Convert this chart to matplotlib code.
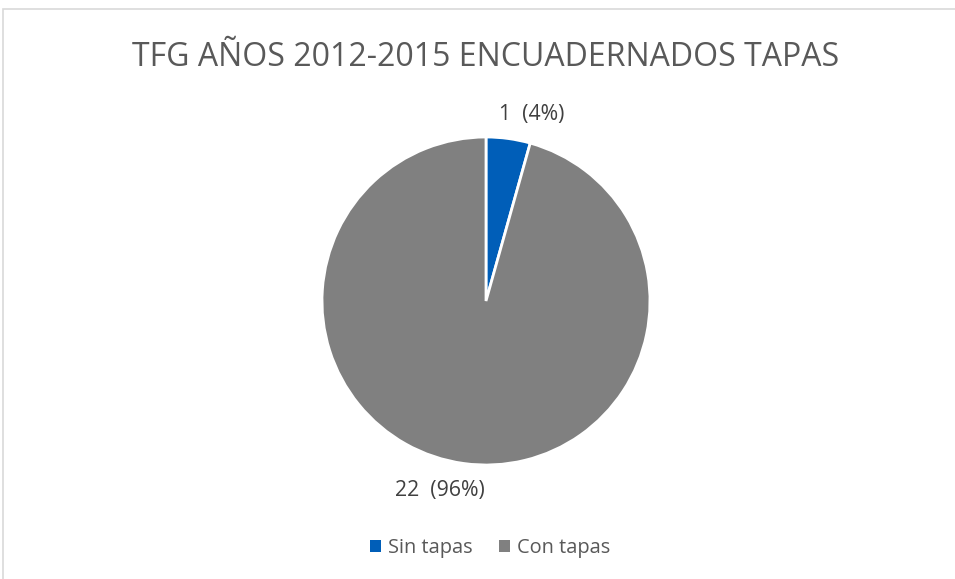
import matplotlib
matplotlib.use("Agg")
import matplotlib.pyplot as plt
import numpy as np
from matplotlib.patches import Rectangle

title = "TFG AÑOS 2012-2015 ENCUADERNADOS TAPAS"
categories = ["Sin tapas", "Con tapas"]
values = [1, 22]
colors = ["#005EB8", "#808080"]

plt.rcParams['font.family'] = ['Open Sans', 'DejaVu Sans']

W, H = 955, 579
fig = plt.figure(figsize=(W / 100, H / 100), dpi=100)
fig.patch.set_facecolor("white")

# chart border (top and left visible)
fig.add_artist(Rectangle((3 / W, -0.1), 1.2, (H - 9) / H + 0.1, transform=fig.transFigure,
                         fill=False, edgecolor="#D9D9D9", linewidth=1.2))

cx, cy, r = 486, 301, 164
ax = fig.add_axes([(cx - r) / W, (H - cy - r) / H, 2 * r / W, 2 * r / H])
wedges, _ = ax.pie(values, colors=colors, startangle=90, counterclock=False,
                   radius=1, wedgeprops=dict(edgecolor="white", linewidth=2))
ax.set_xlim(-1, 1)
ax.set_ylim(-1, 1)
ax.set_aspect("equal")
ax.axis("off")

total = sum(values)
for w, v in zip(wedges, values):
    mid = (w.theta1 + w.theta2) / 2 - 6
    rad = np.deg2rad(mid)
    d = 1.17
    ax.text(d * np.cos(rad), d * np.sin(rad) - (0.02 if np.sin(rad) < 0 else 0),
            f"{v}  ({v / total:.0%})",
            ha="center", va="center", fontsize=15.3, color="#404040", clip_on=False)

fig.text(486 / W, 1 - 58 / H, title, ha="center", va="center", fontsize=23, color="#595959")

handles = [Rectangle((0, 0), 1, 1, facecolor=c) for c in colors]
leg = fig.legend(handles, categories, loc="center", bbox_to_anchor=(490 / W, 1 - 548 / H),
                 ncol=2, frameon=False, fontsize=14.4, handlelength=0.55, handleheight=0.55,
                 handletextpad=0.35, columnspacing=1.3)
for t in leg.get_texts():
    t.set_color("#595959")

fig.savefig("out.png", dpi=100, facecolor="white")
